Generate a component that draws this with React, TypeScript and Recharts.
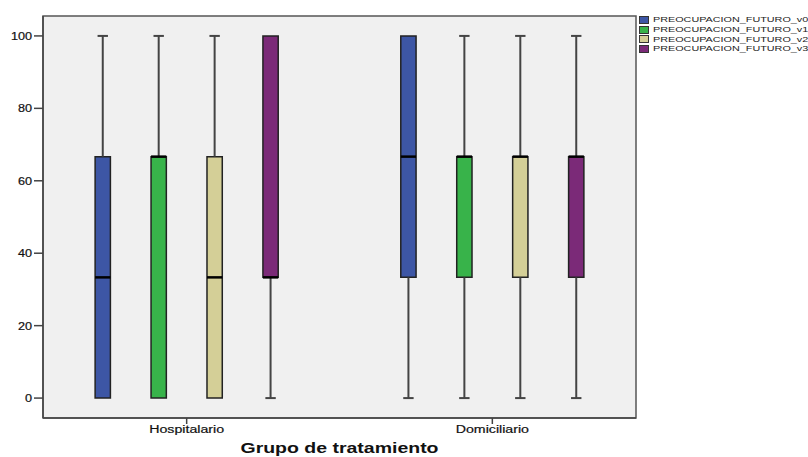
import React from 'react'
import { ComposedChart, XAxis, YAxis, ReferenceArea, ReferenceLine, Scatter } from 'recharts'

// groups along the x axis
const GROUPS = ['Hospitalario', 'Domiciliario']

const SERIES = ['PREOCUPACION_FUTURO_v0', 'PREOCUPACION_FUTURO_v1', 'PREOCUPACION_FUTURO_v2', 'PREOCUPACION_FUTURO_v3']
const COLORS = ['#3d56a5', '#38b34a', '#d4cf97', '#7b2a78']

// [min, q1, median, q3, max] per group
const v0 = [[0, 0, 33.33, 66.67, 100], [0, 33.33, 66.67, 100, 100]]
const v1 = [[0, 0, 66.67, 66.67, 100], [0, 33.33, 66.67, 66.67, 100]]
const v2 = [[0, 0, 33.33, 66.67, 100], [0, 33.33, 66.67, 66.67, 100]]
const v3 = [[0, 33.33, 33.33, 100, 100], [0, 33.33, 66.67, 66.67, 100]]
const STATS = [v0, v1, v2, v3]

const Y_TICKS = [0, 20, 40, 60, 80, 100]

const X_DOMAIN: [number, number] = [-0.47, 1.47]
const Y_DOMAIN: [number, number] = [-5.5, 105.5]
const SLOT = 0.183
const HALF_BOX = 0.025
const HALF_CAP = 0.017

const FONT = '"Liberation Sans", Arial, sans-serif'

const boxes = GROUPS.flatMap((g, gi) =>
  STATS.map((s, si) => {
    const [min, q1, med, q3, max] = s[gi]
    return { key: `${g}-${si}`, x: gi + (si - 1.5) * SLOT, min, q1, med, q3, max, color: COLORS[si] }
  })
)

// text is drawn a bit wide, like the old SPSS output
const XTick = (props: any) => {
  const { x, y, payload } = props
  return (
    <text
      transform={`translate(${x},${y}) scale(1.29,1)`}
      textAnchor="middle"
      dy="0.75em"
      fontSize={11}
      fill="#111"
      stroke="#111"
      strokeWidth={0.2}
      fontFamily={FONT}
    >
      {GROUPS[payload.value]}
    </text>
  )
}

const YTick = (props: any) => {
  const { x, y, payload } = props
  return (
    <text
      transform={`translate(${x},${y}) scale(1.15,1)`}
      textAnchor="end"
      dy="0.36em"
      fontSize={11}
      fill="#111"
      stroke="#111"
      strokeWidth={0.2}
      fontFamily={FONT}
    >
      {payload.value}
    </text>
  )
}

const AxisTitle = (props: any) => {
  const vb = props.viewBox
  const cx = vb.x + vb.width / 2
  return (
    <text
      transform={`translate(${cx},${vb.y + vb.height - 4}) scale(1.3,1)`}
      textAnchor="middle"
      fontSize={15}
      fontWeight="bold"
      fill="#111"
      fontFamily={FONT}
    >
      Grupo de tratamiento
    </text>
  )
}

export default function App() {
  return (
    <div style={{ position: 'absolute', left: 0, top: 0, width: 808, height: 457, background: '#fff', overflow: 'hidden' }}>
      <ComposedChart width={808} height={457} margin={{ top: 16, right: 172, bottom: 0, left: 0 }}>
        <XAxis
          type="number"
          dataKey="x"
          domain={X_DOMAIN}
          ticks={[0, 1]}
          allowDataOverflow
          height={39}
          stroke="#444"
          strokeWidth={1.5}
          tickSize={6}
          tickMargin={1}
          tick={<XTick />}
          label={{ content: <AxisTitle /> }}
        />
        <YAxis
          type="number"
          dataKey="y"
          domain={Y_DOMAIN}
          ticks={Y_TICKS}
          allowDataOverflow
          width={43}
          stroke="#444"
          strokeWidth={1.5}
          tickSize={9}
          tickMargin={2}
          tick={<YTick />}
        />
        {/* plot background and frame */}
        <ReferenceArea
          x1={X_DOMAIN[0]}
          x2={X_DOMAIN[1]}
          y1={Y_DOMAIN[0]}
          y2={Y_DOMAIN[1]}
          fill="#f0f0f0"
          fillOpacity={1}
          stroke="#555"
          strokeWidth={1.5}
          ifOverflow="visible"
        />
        {boxes.map(b => (
          <React.Fragment key={b.key}>
            {b.max > b.q3 && (
              <ReferenceLine segment={[{ x: b.x, y: b.q3 }, { x: b.x, y: b.max }]} stroke="#444" strokeWidth={2} ifOverflow="visible" />
            )}
            {b.max > b.q3 && (
              <ReferenceLine segment={[{ x: b.x - HALF_CAP, y: b.max }, { x: b.x + HALF_CAP, y: b.max }]} stroke="#444" strokeWidth={2} ifOverflow="visible" />
            )}
            {b.q1 > b.min && (
              <ReferenceLine segment={[{ x: b.x, y: b.min }, { x: b.x, y: b.q1 }]} stroke="#444" strokeWidth={2} ifOverflow="visible" />
            )}
            {b.q1 > b.min && (
              <ReferenceLine segment={[{ x: b.x - HALF_CAP, y: b.min }, { x: b.x + HALF_CAP, y: b.min }]} stroke="#444" strokeWidth={2} ifOverflow="visible" />
            )}
            <ReferenceArea
              x1={b.x - HALF_BOX}
              x2={b.x + HALF_BOX}
              y1={b.q1}
              y2={b.q3}
              fill={b.color}
              fillOpacity={1}
              stroke="#222"
              strokeWidth={1.5}
              ifOverflow="visible"
            />
            <ReferenceLine segment={[{ x: b.x - HALF_BOX, y: b.med }, { x: b.x + HALF_BOX, y: b.med }]} stroke="#000" strokeWidth={2.5} ifOverflow="visible" />
          </React.Fragment>
        ))}
        <Scatter data={boxes.map(b => ({ x: b.x, y: b.med }))} shape={() => <g />} isAnimationActive={false} />
      </ComposedChart>
      <div style={{ position: 'absolute', left: 639, top: 15, fontFamily: FONT, fontSize: 8, color: '#222' }}>
        {SERIES.map((name, i) => (
          <div key={name} style={{ display: 'flex', alignItems: 'center', height: 9.7 }}>
            <span style={{ width: 8, height: 6, background: COLORS[i], border: '1px solid #333', display: 'inline-block' }} />
            <span style={{ marginLeft: 4, display: 'inline-block', transform: 'scaleX(1.35)', transformOrigin: 'left center', whiteSpace: 'nowrap', lineHeight: '9px' }}>{name}</span>
          </div>
        ))}
      </div>
    </div>
  )
}
